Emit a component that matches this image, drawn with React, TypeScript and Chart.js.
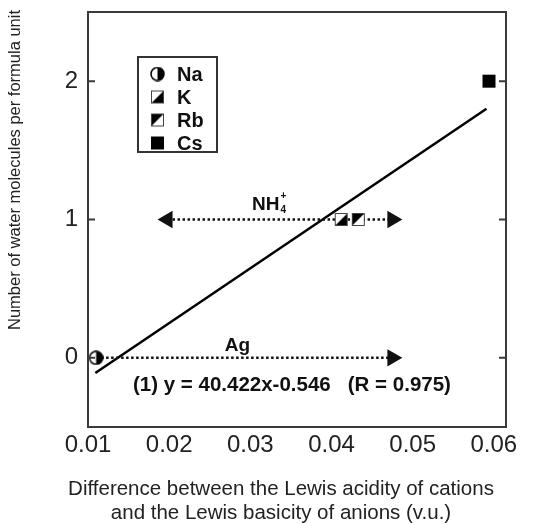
import React, { useEffect, useRef } from 'react';
import { Chart, registerables } from 'chart.js';
Chart.register(...registerables);

const xTicks = [0.01, 0.02, 0.03, 0.04, 0.05, 0.06];
const yTicks = [0, 1, 2];
const xRange = [0.01, 0.0615];
const yRange = [-0.5, 2.5];
const cationNames = ['Na', 'K', 'Rb', 'Cs'];
const cationX = [0.011, 0.0412, 0.0433, 0.0594];
const cationY = [0, 1, 1, 2];
const fitX = [0.0109, 0.0591];
const fitY = [-0.109, 1.8];
const nh4ArrowX = [0.0198, 0.0475];
const nh4ArrowY = [1, 1];
const agArrowX = [0.011, 0.0475];
const agArrowY = [0, 0];
const equationText = '(1) y = 40.422x-0.546   (R = 0.975)';
const xTitle = ['Difference between the Lewis acidity of cations', 'and the Lewis basicity of anions (v.u.)'];
const yTitle = 'Number of water molecules per formula unit';

const FONT = '"Liberation Sans", Arial, Helvetica, sans-serif';
const TXT = '#222';

function makeMarker(kind: string): HTMLCanvasElement {
  const S = 15;
  const c = document.createElement('canvas');
  c.width = S; c.height = S;
  const g = c.getContext('2d')!;
  if (kind === 'Na') {
    const r = 6.5, cx = S / 2, cy = S / 2;
    g.fillStyle = '#fff';
    g.beginPath(); g.arc(cx, cy, r, 0, Math.PI * 2); g.fill();
    g.fillStyle = '#000';
    g.beginPath(); g.moveTo(cx, cy - r); g.arc(cx, cy, r, -Math.PI / 2, Math.PI / 2); g.closePath(); g.fill();
    g.strokeStyle = '#000'; g.lineWidth = 1.5;
    g.beginPath(); g.arc(cx, cy, r, 0, Math.PI * 2); g.stroke();
  } else if (kind === 'Cs') {
    g.fillStyle = '#000';
    g.fillRect(1, 1, S - 2, S - 2);
  } else {
    g.fillStyle = '#fff';
    g.fillRect(1, 1, S - 2, S - 2);
    g.fillStyle = '#000';
    g.beginPath();
    if (kind === 'K') {
      g.moveTo(1, S - 1); g.lineTo(S - 1, 1); g.lineTo(S - 1, S - 1);
    } else {
      g.moveTo(1, 1); g.lineTo(S - 1, 1); g.lineTo(1, S - 1);
    }
    g.closePath(); g.fill();
    g.strokeStyle = '#444'; g.lineWidth = 1;
    g.strokeRect(1.5, 1.5, S - 3, S - 3);
  }
  return c;
}

export default function App() {
  const ref = useRef<HTMLCanvasElement>(null);
  useEffect(() => {
    const markers = cationNames.map(makeMarker);
    const decor = {
      id: 'decor',
      afterDatasetsDraw(chart: any) {
        const { ctx, chartArea: a, scales } = chart;
        const xs = scales.x, ys = scales.y;
        ctx.save();
        // frame
        ctx.strokeStyle = '#3a3a3a';
        ctx.lineWidth = 2;
        ctx.strokeRect(a.left, a.top, a.right - a.left, a.bottom - a.top);
        // inward y ticks
        yTicks.forEach((v) => {
          const py = ys.getPixelForValue(v);
          ctx.beginPath();
          ctx.moveTo(a.left, py); ctx.lineTo(a.left + 7, py);
          ctx.moveTo(a.right, py); ctx.lineTo(a.right - 7, py);
          ctx.stroke();
        });
        // labels
        ctx.fillStyle = '#111';
        ctx.textBaseline = 'middle';
        ctx.font = `bold 19px ${FONT}`;
        ctx.textAlign = 'center';
        const nx = xs.getPixelForValue(0.0319), ny = ys.getPixelForValue(1.11);
        ctx.fillText('NH', nx, ny);
        const w = ctx.measureText('NH').width;
        ctx.font = `bold 10px ${FONT}`;
        ctx.textAlign = 'left';
        ctx.fillText('4', nx + w / 2 + 1, ny + 6);
        ctx.fillText('+', nx + w / 2 + 1, ny - 8);
        ctx.font = `bold 19px ${FONT}`;
        ctx.textAlign = 'center';
        ctx.fillText('Ag', xs.getPixelForValue(0.0284), ys.getPixelForValue(0.087));
        ctx.textAlign = 'left';
        ctx.font = `bold 20.5px ${FONT}`;
        ctx.fillText(equationText, xs.getPixelForValue(0.01554), ys.getPixelForValue(-0.196));
        // legend
        ctx.strokeStyle = '#333';
        ctx.lineWidth = 2;
        ctx.strokeRect(138, 57, 79, 95);
        ctx.font = `bold 20px ${FONT}`;
        cationNames.forEach((n, i) => {
          const cy = 74 + i * 23;
          ctx.drawImage(markers[i], 150, cy - 7.5);
          ctx.fillText(n, 177, cy + 1);
        });
        // axis titles
        ctx.fillStyle = TXT;
        ctx.font = `20.5px ${FONT}`;
        ctx.textAlign = 'center';
        ctx.fillText(xTitle[0], 281, 489);
        ctx.fillText(xTitle[1], 281, 513);
        ctx.font = `16.5px ${FONT}`;
        ctx.translate(15, 170);
        ctx.rotate(-Math.PI / 2);
        ctx.fillText(yTitle, 0, 0);
        ctx.restore();
      },
    };
    const pts = (xa: number[], ya: number[]) => xa.map((x, i) => ({ x, y: ya[i] }));
    const chart = new Chart(ref.current!, {
      type: 'scatter',
      data: {
        datasets: [
          {
            data: pts(fitX, fitY), showLine: true, borderColor: '#000', borderWidth: 2.5,
            pointRadius: 0, order: 5,
          } as any,
          {
            data: pts(nh4ArrowX, nh4ArrowY), showLine: true, borderColor: '#111', borderWidth: 2.5,
            borderDash: [2.5, 2.5], pointRadius: 0, order: 4,
          },
          {
            data: pts(agArrowX, agArrowY), showLine: true, borderColor: '#111', borderWidth: 2.5,
            borderDash: [2.5, 2.5], pointRadius: 0, order: 4,
          },
          {
            data: [
              { x: nh4ArrowX[0], y: nh4ArrowY[0] },
              { x: nh4ArrowX[1], y: nh4ArrowY[1] },
              { x: agArrowX[1], y: agArrowY[1] },
            ],
            pointStyle: 'triangle', pointRadius: 10, pointRotation: [-90, 90, 90],
            backgroundColor: '#111', borderColor: '#111', borderWidth: 0, order: 3,
          } as any,
          {
            data: pts(cationX, cationY), pointStyle: markers, pointRadius: 7.5, order: 1,
          } as any,
        ],
      },
      options: {
        animation: false,
        responsive: false,
        devicePixelRatio: 1,
        layout: { padding: { top: 12, right: 27, left: 0, bottom: 0 } },
        plugins: { legend: { display: false }, tooltip: { enabled: false } },
        scales: {
          x: {
            type: 'linear', min: xRange[0], max: xRange[1],
            afterBuildTicks: (s: any) => { s.ticks = xTicks.map((v) => ({ value: v })); },
            afterFit: (s: any) => { s.height = 96; s.paddingLeft = 0; s.paddingRight = 0; },
            grid: { display: false, drawTicks: false },
            border: { display: false },
            ticks: {
              font: { size: 24, family: FONT }, color: TXT, padding: 4, maxRotation: 0,
              callback: (v: any) => Number(v).toFixed(2),
            },
          },
          y: {
            type: 'linear', min: yRange[0], max: yRange[1],
            afterBuildTicks: (s: any) => { s.ticks = yTicks.map((v) => ({ value: v })); },
            afterFit: (s: any) => { s.width = 88; s.paddingTop = 0; s.paddingBottom = 0; },
            grid: { display: false, drawTicks: false },
            border: { display: false },
            ticks: {
              font: { size: 24, family: FONT }, color: TXT, padding: 10,
              callback: (v: any) => String(v),
            },
          },
        },
      },
      plugins: [decor],
    });
    return () => chart.destroy();
  }, []);
  return (
    <div style={{ position: 'absolute', left: 0, top: 0, width: 533, height: 523, background: '#fff' }}>
      <canvas ref={ref} width={533} height={523} />
    </div>
  );
}
